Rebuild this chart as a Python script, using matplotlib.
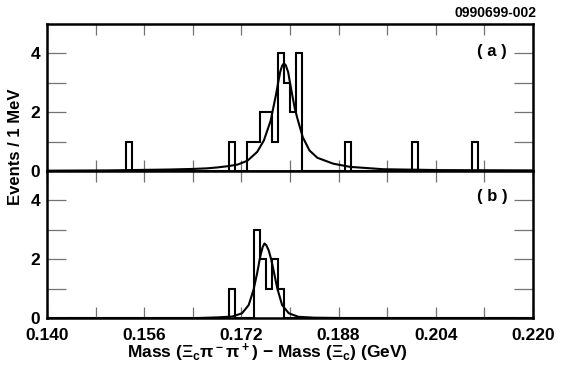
import numpy as np
import matplotlib.pyplot as plt

plt.rcParams['font.family'] = ['Liberation Sans', 'DejaVu Sans']
plt.rcParams['font.weight'] = 'bold'
plt.rcParams['mathtext.fontset'] = 'custom'
plt.rcParams['mathtext.rm'] = 'Liberation Sans:bold'
plt.rcParams['mathtext.it'] = 'Liberation Sans:bold'
plt.rcParams['mathtext.bf'] = 'Liberation Sans:bold'

# histogram contents, 1 MeV bins (lower bin edge in MeV)
top_bin_mev = [153, 170, 173, 174, 175, 176, 177, 178, 179, 180, 181, 189, 200, 210]
top_counts = [1, 1, 1, 1, 2, 2, 1, 4, 3, 2, 4, 1, 1, 1]
bot_bin_mev = [170, 174, 175, 176, 177, 178]
bot_counts = [1, 3, 2, 1, 2, 1]

# fit curves
top_fit_mass = [0.140, 0.150, 0.160, 0.164, 0.1663, 0.168, 0.170, 0.1714, 0.1730,
                0.1746, 0.1757, 0.1768, 0.1773, 0.1777, 0.1780, 0.1784, 0.1787,
                0.1790, 0.1793, 0.1797, 0.1800, 0.1804, 0.1808, 0.1812, 0.1821,
                0.1832, 0.1845, 0.1871, 0.1899, 0.1954, 0.205, 0.220]
top_fit_val = [0.01, 0.02, 0.05, 0.07, 0.09, 0.12, 0.17, 0.22, 0.35,
               0.65, 1.04, 1.70, 2.20, 2.60, 2.95, 3.38, 3.58,
               3.66, 3.60, 3.36, 3.00, 2.55, 2.12, 1.80, 1.15,
               0.70, 0.45, 0.25, 0.14, 0.06, 0.03, 0.02]
bot_fit_mass = [0.150, 0.160, 0.165, 0.168, 0.1705, 0.1721, 0.1732, 0.1740, 0.1746,
                0.1751, 0.1755, 0.1758, 0.1761, 0.1765, 0.1769, 0.1772, 0.1779,
                0.1787, 0.1798, 0.1814, 0.184, 0.188, 0.195, 0.210]
bot_fit_val = [0.0, 0.0, 0.01, 0.03, 0.06, 0.17, 0.45, 0.97, 1.54,
               2.10, 2.42, 2.54, 2.48, 2.30, 2.00, 1.72, 1.02,
               0.45, 0.17, 0.05, 0.02, 0.01, 0.0, 0.0]

edges = np.arange(140, 221) / 1000.0


def fill_hist(bins, counts):
    h = np.zeros(len(edges) - 1)
    h[np.array(bins) - 140] = counts
    return h


fig = plt.figure(figsize=(5.81, 3.75), dpi=100)
ax_a = fig.add_axes([0.0809, 0.544, 0.8365, 0.392])
ax_b = fig.add_axes([0.0809, 0.1512, 0.8365, 0.3928])

for ax, bins, counts, fm, fv in [(ax_a, top_bin_mev, top_counts, top_fit_mass, top_fit_val),
                                 (ax_b, bot_bin_mev, bot_counts, bot_fit_mass, bot_fit_val)]:
    ax.stairs(fill_hist(bins, counts), edges, color='black', lw=1.5, baseline=0)
    ax.plot(fm, fv, color='black', lw=1.5)
    ax.set_xlim(0.140, 0.220)
    ax.set_ylim(0, 5)
    ax.set_xticks(np.arange(0.140, 0.2201, 0.016))
    ax.set_xticks(np.arange(0.148, 0.220, 0.016), minor=True)
    ax.set_yticks([0, 2, 4])
    ax.set_yticks([1, 3], minor=True)
    ax.tick_params(which='both', direction='in', top=True, right=True,
                   color='0.45', width=0.9, labelsize=12.5, pad=5)
    ax.tick_params(axis='x', which='both', length=8, pad=7)
    ax.tick_params(axis='y', which='both', length=14)
    for s in ax.spines.values():
        s.set_linewidth(1.8)

ax_a.tick_params(labelbottom=False)
ax_b.set_xticklabels(['%.3f' % t for t in np.arange(0.140, 0.2201, 0.016)])

ax_a.text(0.916, 0.81, '( a )', transform=ax_a.transAxes, ha='center', va='center',
          fontsize=12, fontweight='bold')
ax_b.text(0.916, 0.83, '( b )', transform=ax_b.transAxes, ha='center', va='center',
          fontsize=12, fontweight='bold')

fig.text(0.027, 0.608, 'Events / 1 MeV', rotation=90, ha='center', va='center',
         fontsize=12, fontweight='bold')
fig.text(0.46, 0.045, r'Mass ($\Xi_c\pi^-\pi^+$) $-$ Mass ($\Xi_c$) (GeV)',
         ha='center', va='baseline', fontsize=12.5, fontweight='bold')
fig.text(0.924, 0.965, '0990699-002', ha='right', va='center', fontsize=10,
         fontweight='bold')

fig.savefig('out.png', dpi=100)
